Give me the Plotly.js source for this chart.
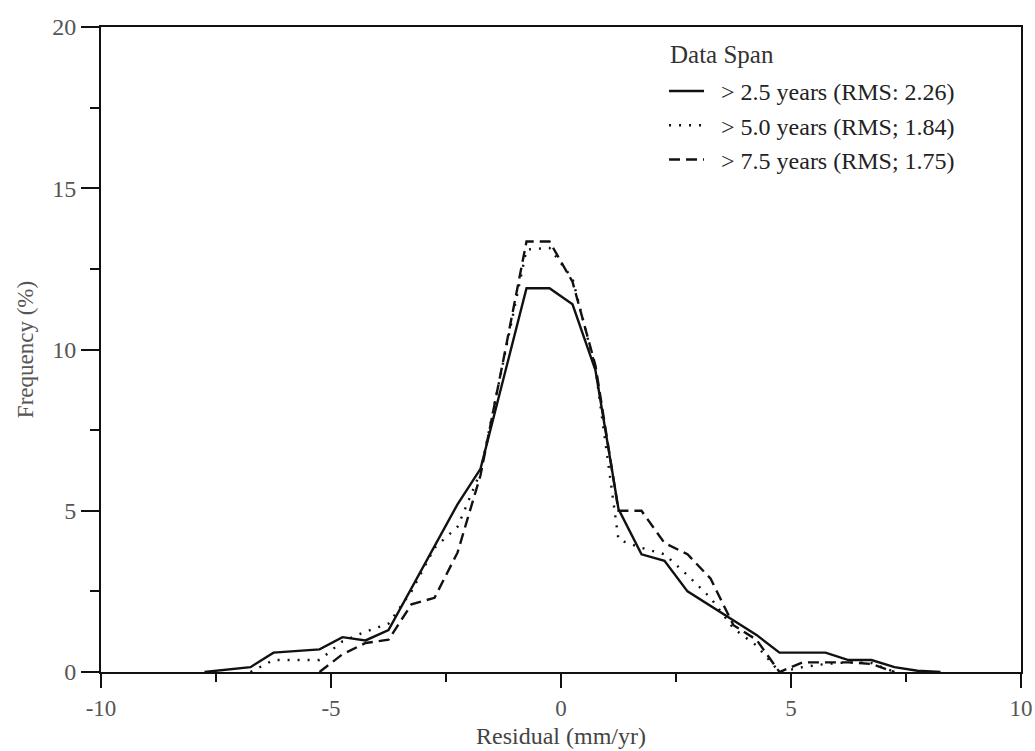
<!DOCTYPE html>
<html>
<head>
<meta charset="utf-8">
<script src="https://cdn.plot.ly/plotly-3.0.1.min.js"></script>
<style>html,body{margin:0;padding:0;background:#fff;overflow:hidden;}#chart{width:1035px;height:751px;}</style>
</head>
<body>
<div id="chart"></div>
<script>
// Residual bins (mm/yr) and frequencies (%) per data span
var x25 = [-7.75,-7.25,-6.75,-6.25,-5.75,-5.25,-4.75,-4.25,-3.75,-3.25,-2.75,-2.25,-1.75,-1.25,-0.75,-0.25,0.25,0.75,1.25,1.75,2.25,2.75,3.25,3.75,4.25,4.75,5.25,5.75,6.25,6.75,7.25,7.75,8.25];
var y25 = [0,0.07,0.15,0.6,0.65,0.7,1.08,0.98,1.3,2.6,3.9,5.2,6.3,9.1,11.9,11.9,11.4,9.35,5.05,3.65,3.45,2.5,2.05,1.6,1.15,0.6,0.6,0.6,0.37,0.37,0.15,0.04,0];

var x50 = [-6.75,-6.25,-5.75,-5.25,-4.75,-4.25,-3.75,-3.25,-2.75,-2.25,-1.75,-1.25,-0.75,-0.25,0.25,0.75,1.25,1.75,2.25,2.75,3.25,3.75,4.25,4.75,5.25,5.75,6.25,6.75,7.25];
var y50 = [0,0.37,0.37,0.37,0.95,1.25,1.5,2.5,3.85,4.5,6.2,9.65,13.1,13.15,12.2,9.4,4.1,3.85,3.65,3.0,2.3,1.35,0.82,0,0.15,0.25,0.3,0.28,0];

var x75 = [-5.25,-4.75,-4.25,-3.75,-3.25,-2.75,-2.25,-1.75,-1.25,-0.75,-0.25,0.25,0.75,1.25,1.75,2.25,2.75,3.25,3.75,4.25,4.75,5.25,5.75,6.25,6.75,7.25];
var y75 = [0,0.55,0.9,1.0,2.1,2.3,3.7,6.1,9.7,13.35,13.35,12.1,9.5,5.0,5.0,4.0,3.65,2.9,1.45,1.0,0,0.3,0.3,0.3,0.25,0];

var seriesNames = ['> 2.5 years (RMS: 2.26)', '> 5.0 years (RMS; 1.84)', '> 7.5 years (RMS; 1.75)'];
var legendTitle = 'Data Span';
var xTickVals = [-10,-5,0,5,10];
var xTickText = ['-10','-5','0','5','10'];
var yTickVals = [0,5,10,15,20];
var yTickText = ['0','5','10','15','20'];

var pad = '\u00a0\u00a0';
var traces = [
  {x:x25, y:y25, name:pad + seriesNames[0], type:'scatter', mode:'lines', line:{color:'#111', width:2.4, dash:'solid'}},
  {x:x50, y:y50, name:pad + seriesNames[1], type:'scatter', mode:'lines', line:{color:'#111', width:2.4, dash:'2px,8px'}},
  {x:x75, y:y75, name:pad + seriesNames[2], type:'scatter', mode:'lines', line:{color:'#111', width:2.4, dash:'11px,6px'}}
];

var serif = 'Liberation Serif, Times New Roman, serif';
var axisCommon = {
  showline:true, linewidth:2, linecolor:'#111', mirror:true,
  showgrid:false, zeroline:false,
  ticks:'outside', tickwidth:2, tickcolor:'#111',
  ticklabeloverflow:'allow',
  tickfont:{family:serif, size:24, color:'#555'}
};

var layout = {
  width:1035, height:751,
  margin:{l:101, r:14, t:27, b:79},
  paper_bgcolor:'#fff', plot_bgcolor:'#fff',
  font:{family:serif, size:22, color:'#444'},
  showlegend:true,
  legend:{
    x:0.612, y:0.935, xanchor:'left', yanchor:'top',
    bgcolor:'rgba(0,0,0,0)', borderwidth:0,
    font:{family:serif, size:24, color:'#222'},
    itemwidth:35, tracegroupgap:0
  },
  annotations:[{
    xref:'paper', yref:'paper', x:0.616, y:0.9566, xanchor:'left', yanchor:'middle',
    text:legendTitle, showarrow:false, font:{family:serif, size:25, color:'#333'}
  }],
  xaxis:Object.assign({}, axisCommon, {
    range:[-10,10], tickmode:'array', tickvals:xTickVals, ticktext:xTickText, ticklen:14,
    tickfont:{family:serif, size:23, color:'#555'},
    minor:{dtick:2.5, tick0:0, ticks:'outside', ticklen:8, tickwidth:2, tickcolor:'#111'},
    title:{text:'Residual (mm/yr)', font:{family:serif, size:24, color:'#444'}, standoff:8}
  }),
  yaxis:Object.assign({}, axisCommon, {
    range:[0,20], tickmode:'array', tickvals:yTickVals, ticktext:yTickText, ticklen:18,
    minor:{dtick:2.5, tick0:0, ticks:'outside', ticklen:9, tickwidth:2, tickcolor:'#111'},
    title:{text:'Frequency (%)', font:{family:serif, size:23, color:'#555'}, standoff:12}
  })
};

Plotly.newPlot('chart', traces, layout, {displayModeBar:false, staticPlot:true});
</script>
</body>
</html>
